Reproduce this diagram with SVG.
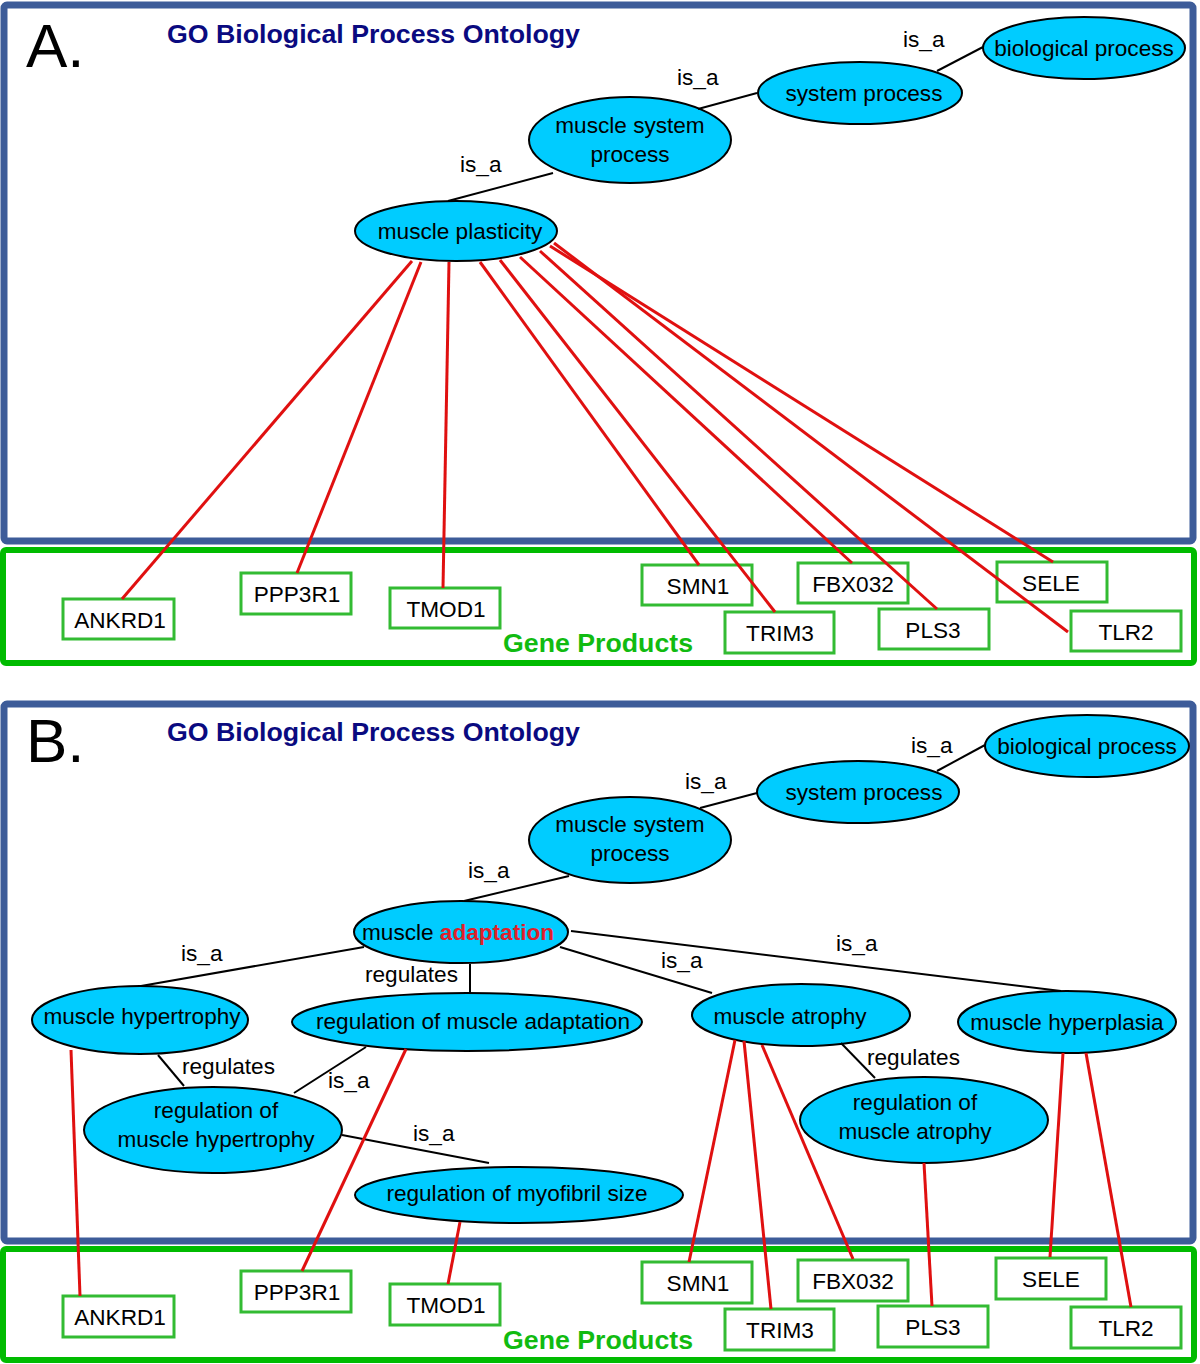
<svg xmlns="http://www.w3.org/2000/svg" width="1200" height="1364" viewBox="0 0 1200 1364">
<style>
.frameB{fill:none;stroke:#3d5c99;stroke-width:7}
.frameG{fill:none;stroke:#00bb00;stroke-width:6}
.ell{fill:#00ccff;stroke:#000;stroke-width:2}
.t{font-family:"Liberation Sans",Arial,sans-serif;font-size:22.6px;fill:#000}
.c{text-anchor:middle}
.title{font-family:"Liberation Sans",Arial,sans-serif;font-size:26px;font-weight:bold;fill:#0a0a80}
.big{font-family:"Liberation Sans",Arial,sans-serif;font-size:62px;fill:#000}
.gp{font-family:"Liberation Sans",Arial,sans-serif;font-size:26px;font-weight:bold;fill:#11bb11}
.gene{fill:#fff;stroke:#33bb33;stroke-width:3}
.blk{stroke:#000;stroke-width:2;fill:none}
.red{stroke:#e01010;stroke-width:3;fill:none}
.ad{fill:#e0202a;font-weight:bold}
</style>
<rect width="1200" height="1364" fill="#fff"/>
<!-- frames -->
<rect class="frameB" x="4" y="5" width="1189" height="536" rx="3"/>
<rect class="frameG" x="3" y="550" width="1191" height="113" rx="3"/>
<rect class="frameB" x="4" y="704" width="1189" height="537" rx="3"/>
<rect class="frameG" x="3" y="1249" width="1191" height="111" rx="3"/>
<text class="big" x="26" y="67">A.</text>
<text class="title" x="167" y="43" textLength="413" lengthAdjust="spacingAndGlyphs">GO Biological Process Ontology</text>
<text class="gp" x="503" y="652" textLength="190" lengthAdjust="spacingAndGlyphs">Gene Products</text>
<text class="big" x="26" y="762">B.</text>
<text class="title" x="167" y="741" textLength="413" lengthAdjust="spacingAndGlyphs">GO Biological Process Ontology</text>
<text class="gp" x="503" y="1349" textLength="190" lengthAdjust="spacingAndGlyphs">Gene Products</text>

<!-- Panel A nodes -->
<g id="A-biological-process"><ellipse class="ell" cx="1084" cy="48" rx="101" ry="31"/><text class="t c" x="1084" y="56">biological process</text></g>
<g id="A-system-process"><ellipse class="ell" cx="860" cy="93" rx="102" ry="31"/><text class="t c" x="864" y="101">system process</text></g>
<g id="A-muscle-system-process"><ellipse class="ell" cx="630" cy="140" rx="101" ry="43"/><text class="t c" x="630" y="133">muscle system</text><text class="t c" x="630" y="162">process</text></g>
<g id="A-muscle-plasticity"><ellipse class="ell" cx="456" cy="231" rx="101" ry="30"/><text class="t c" x="460" y="239">muscle plasticity</text></g>

<g id="A-ANKRD1"><rect class="gene" x="63" y="599" width="111" height="40"/><text class="t c" x="120" y="628">ANKRD1</text></g>
<g id="A-PPP3R1"><rect class="gene" x="241" y="573" width="110" height="41"/><text class="t c" x="297" y="602">PPP3R1</text></g>
<g id="A-TMOD1"><rect class="gene" x="390" y="588" width="110" height="40"/><text class="t c" x="446" y="617">TMOD1</text></g>
<g id="A-SMN1"><rect class="gene" x="642" y="565" width="110" height="40"/><text class="t c" x="698" y="594">SMN1</text></g>
<g id="A-FBX032"><rect class="gene" x="798" y="563" width="110" height="40"/><text class="t c" x="853" y="592">FBX032</text></g>
<g id="A-SELE"><rect class="gene" x="997" y="562" width="110" height="40"/><text class="t c" x="1051" y="591">SELE</text></g>
<g id="A-TRIM3"><rect class="gene" x="725" y="612" width="109" height="41"/><text class="t c" x="780" y="641">TRIM3</text></g>
<g id="A-PLS3"><rect class="gene" x="879" y="609" width="110" height="40"/><text class="t c" x="933" y="638">PLS3</text></g>
<g id="A-TLR2"><rect class="gene" x="1071" y="611" width="110" height="40"/><text class="t c" x="1126" y="640">TLR2</text></g>

<!-- Panel B nodes -->
<g id="B-biological-process"><ellipse class="ell" cx="1087" cy="746" rx="102" ry="31"/><text class="t c" x="1087" y="754">biological process</text></g>
<g id="B-system-process"><ellipse class="ell" cx="858" cy="792" rx="101" ry="31"/><text class="t c" x="864" y="800">system process</text></g>
<g id="B-muscle-system-process"><ellipse class="ell" cx="630" cy="840" rx="101" ry="43"/><text class="t c" x="630" y="832">muscle system</text><text class="t c" x="630" y="861">process</text></g>
<g id="B-muscle-adaptation"><ellipse class="ell" cx="461" cy="932" rx="107" ry="31"/><text class="t" x="362" y="940">muscle <tspan class="ad">adaptation</tspan></text></g>
<g id="B-muscle-hypertrophy"><ellipse class="ell" cx="140" cy="1020" rx="108" ry="34"/><text class="t c" x="142" y="1024">muscle hypertrophy</text></g>
<g id="B-regulation-of-muscle-adaptation"><ellipse class="ell" cx="467" cy="1022" rx="175" ry="29"/><text class="t c" x="473" y="1029">regulation of muscle adaptation</text></g>
<g id="B-regulation-of-muscle-hypertrophy"><ellipse class="ell" cx="213" cy="1130" rx="129" ry="43"/><text class="t c" x="216" y="1118">regulation of</text><text class="t c" x="216" y="1147">muscle hypertrophy</text></g>
<g id="B-regulation-of-myofibril-size"><ellipse class="ell" cx="519" cy="1195" rx="164" ry="28"/><text class="t c" x="517" y="1201">regulation of myofibril size</text></g>
<g id="B-muscle-atrophy"><ellipse class="ell" cx="801" cy="1015" rx="109" ry="31"/><text class="t c" x="790" y="1024">muscle atrophy</text></g>
<g id="B-muscle-hyperplasia"><ellipse class="ell" cx="1067" cy="1022" rx="109" ry="31"/><text class="t c" x="1067" y="1030">muscle hyperplasia</text></g>
<g id="B-regulation-of-muscle-atrophy"><ellipse class="ell" cx="924" cy="1120" rx="124" ry="43"/><text class="t c" x="915" y="1110">regulation of</text><text class="t c" x="915" y="1139">muscle atrophy</text></g>

<g id="B-ANKRD1"><rect class="gene" x="63" y="1296" width="111" height="41"/><text class="t c" x="120" y="1325">ANKRD1</text></g>
<g id="B-PPP3R1"><rect class="gene" x="241" y="1271" width="110" height="41"/><text class="t c" x="297" y="1300">PPP3R1</text></g>
<g id="B-TMOD1"><rect class="gene" x="390" y="1284" width="110" height="41"/><text class="t c" x="446" y="1313">TMOD1</text></g>
<g id="B-SMN1"><rect class="gene" x="642" y="1262" width="110" height="41"/><text class="t c" x="698" y="1291">SMN1</text></g>
<g id="B-FBX032"><rect class="gene" x="798" y="1260" width="110" height="41"/><text class="t c" x="853" y="1289">FBX032</text></g>
<g id="B-SELE"><rect class="gene" x="996" y="1258" width="110" height="41"/><text class="t c" x="1051" y="1287">SELE</text></g>
<g id="B-TRIM3"><rect class="gene" x="725" y="1309" width="109" height="41"/><text class="t c" x="780" y="1338">TRIM3</text></g>
<g id="B-PLS3"><rect class="gene" x="878" y="1306" width="110" height="41"/><text class="t c" x="933" y="1335">PLS3</text></g>
<g id="B-TLR2"><rect class="gene" x="1071" y="1307" width="110" height="41"/><text class="t c" x="1126" y="1336">TLR2</text></g>

<g id="connectors">
<!-- panel A black -->
<line class="blk" x1="983" y1="47" x2="937" y2="71"/>
<line class="blk" x1="757" y1="93" x2="698" y2="109"/>
<line class="blk" x1="553" y1="173" x2="448" y2="201"/>
<text class="t" x="903" y="47">is_a</text>
<text class="t" x="677" y="85">is_a</text>
<text class="t" x="460" y="172">is_a</text>
<!-- panel A red -->
<line class="red" x1="412" y1="261" x2="122" y2="599"/>
<line class="red" x1="421" y1="262" x2="297" y2="573"/>
<line class="red" x1="449" y1="262" x2="443" y2="588"/>
<line class="red" x1="480" y1="262" x2="699" y2="565"/>
<line class="red" x1="500" y1="260" x2="775" y2="612"/>
<line class="red" x1="520" y1="257" x2="852" y2="563"/>
<line class="red" x1="540" y1="251" x2="937" y2="609"/>
<line class="red" x1="550" y1="246" x2="1053" y2="562"/>
<line class="red" x1="554" y1="243" x2="1068" y2="632"/>
<!-- panel B black -->
<line class="blk" x1="985" y1="745" x2="937" y2="771"/>
<line class="blk" x1="757" y1="793" x2="700" y2="808"/>
<line class="blk" x1="569" y1="876" x2="464" y2="901"/>
<line class="blk" x1="364" y1="947" x2="141" y2="986"/>
<line class="blk" x1="470" y1="964" x2="470" y2="993"/>
<line class="blk" x1="560" y1="947" x2="712" y2="993"/>
<line class="blk" x1="571" y1="931" x2="1061" y2="991"/>
<line class="blk" x1="158" y1="1055" x2="184" y2="1086"/>
<line class="blk" x1="366" y1="1047" x2="294" y2="1093"/>
<line class="blk" x1="342" y1="1135" x2="489" y2="1163"/>
<line class="blk" x1="841" y1="1043" x2="875" y2="1078"/>
<text class="t" x="911" y="753">is_a</text>
<text class="t" x="685" y="789">is_a</text>
<text class="t" x="468" y="878">is_a</text>
<text class="t" x="181" y="961">is_a</text>
<text class="t" x="365" y="982">regulates</text>
<text class="t" x="661" y="968">is_a</text>
<text class="t" x="836" y="951">is_a</text>
<text class="t" x="182" y="1074">regulates</text>
<text class="t" x="328" y="1088">is_a</text>
<text class="t" x="413" y="1141">is_a</text>
<text class="t" x="867" y="1065">regulates</text>
<!-- panel B red -->
<line class="red" x1="71" y1="1050" x2="80" y2="1296"/>
<line class="red" x1="406" y1="1049" x2="302" y2="1271"/>
<line class="red" x1="460" y1="1222" x2="448" y2="1284"/>
<line class="red" x1="735" y1="1040" x2="689" y2="1262"/>
<line class="red" x1="744" y1="1041" x2="771" y2="1309"/>
<line class="red" x1="762" y1="1045" x2="853" y2="1259"/>
<line class="red" x1="924" y1="1163" x2="932" y2="1306"/>
<line class="red" x1="1063" y1="1053" x2="1050" y2="1257"/>
<line class="red" x1="1086" y1="1053" x2="1131" y2="1307"/>
</g>
</svg>
